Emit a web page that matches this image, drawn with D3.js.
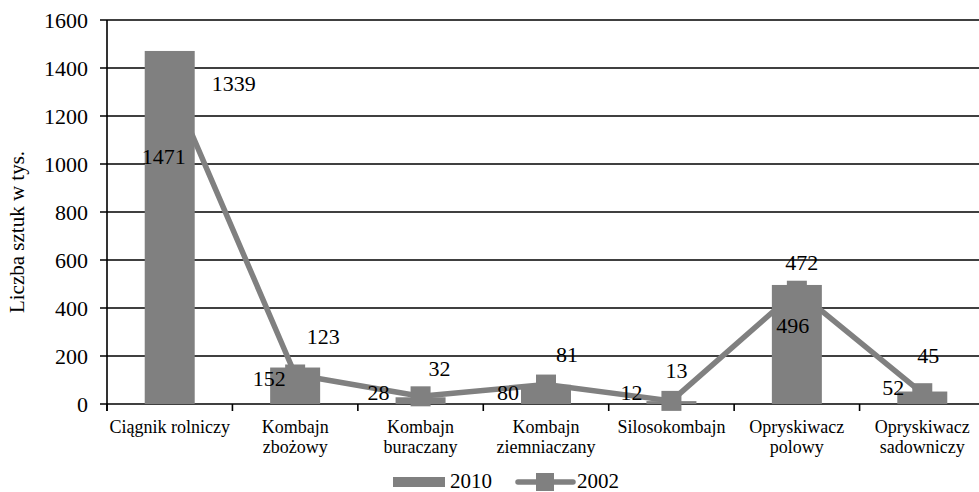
<!DOCTYPE html>
<html>
<head>
<meta charset="utf-8">
<script src="https://cdn.jsdelivr.net/npm/d3@7/dist/d3.min.js"></script>
<style>
  body { margin: 0; background: #fff; }
</style>
</head>
<body>
<div class="chart"></div>
<script>
// Data
const categories = [
  ["Ciągnik rolniczy"],
  ["Kombajn", "zbożowy"],
  ["Kombajn", "buraczany"],
  ["Kombajn", "ziemniaczany"],
  ["Silosokombajn"],
  ["Opryskiwacz", "polowy"],
  ["Opryskiwacz", "sadowniczy"]
]
const values2010 = [1471, 152, 28, 80, 12, 496, 52]
const values2002 = [1339, 123, 32, 81, 13, 472, 45]
const yTicks = [0, 200, 400, 600, 800, 1000, 1200, 1400, 1600]

// Label nudges (layout only), relative to bar top / line point
const nudge2010 = [[-6, 105], [-26, 11], [-42, -5], [-38, 7], [-40, -9], [-4, 40], [-29, -4]]
const nudge2002 = [[64, 1], [28, -38], [19, -28], [21, -30], [5, -31], [5, -28], [6, -38]]

const width = 979
const height = 492
const margin = {top: 20, right: -6, bottom: 88, left: 107}
const grey = "#808080"
const font = "'Liberation Serif', 'Times New Roman', Times, serif"

const svg = d3.select(".chart").append("svg")
    .attr("width", width)
    .attr("height", height)
    .attr("font-family", font)
    .style("display", "block")

const x = d3.scaleBand()
    .domain(d3.range(categories.length))
    .range([margin.left, width - margin.right])

const y = d3.scaleLinear()
    .domain([0, 1600])
    .range([height - margin.bottom, margin.top])

// Gridlines and y ticks
svg.append("g")
    .selectAll("line")
    .data(yTicks)
    .join("line")
      .attr("x1", margin.left - 7)
      .attr("x2", width)
      .attr("y1", d => y(d))
      .attr("y2", d => y(d))
      .attr("stroke", "#000")
      .attr("stroke-width", 1.6)

svg.append("g")
    .selectAll("text")
    .data(yTicks)
    .join("text")
      .attr("x", margin.left - 19)
      .attr("y", d => y(d))
      .attr("dy", "0.35em")
      .attr("text-anchor", "end")
      .attr("font-size", 22)
      .text(d => d)

// Y title
svg.append("text")
    .attr("transform", `translate(24,${(margin.top + y(0)) / 2 + 20}) rotate(-90)`)
    .attr("text-anchor", "middle")
    .attr("font-size", 21)
    .text("Liczba sztuk w tys.")

// 2002 line drawn behind bars
const cx = i => x(i) + x.bandwidth() / 2
const line = d3.line()
    .x((d, i) => cx(i))
    .y(d => y(d))

svg.append("path")
    .datum(values2002)
    .attr("d", line)
    .attr("fill", "none")
    .attr("stroke", grey)
    .attr("stroke-width", 5.5)
    .attr("stroke-linejoin", "round")

svg.append("g")
    .selectAll("rect")
    .data(values2002)
    .join("rect")
      .attr("x", (d, i) => cx(i) - 10)
      .attr("y", d => y(d) - 10)
      .attr("width", 20)
      .attr("height", 20)
      .attr("fill", grey)

// 2010 bars
const barW = 50
svg.append("g")
    .selectAll("rect")
    .data(values2010)
    .join("rect")
      .attr("x", (d, i) => cx(i) - barW / 2)
      .attr("y", d => y(d))
      .attr("width", barW)
      .attr("height", d => y(0) - y(d))
      .attr("fill", grey)

// Axes lines
svg.append("line")
    .attr("x1", margin.left).attr("x2", margin.left)
    .attr("y1", margin.top).attr("y2", y(0) + 7)
    .attr("stroke", "#000").attr("stroke-width", 1.6)

svg.append("g")
    .selectAll("line")
    .data(d3.range(categories.length))
    .join("line")
      .attr("x1", i => x(i)).attr("x2", i => x(i))
      .attr("y1", y(0)).attr("y2", y(0) + 7)
      .attr("stroke", "#000").attr("stroke-width", 1.6)

// Category labels
const catLabels = svg.append("g")
    .selectAll("text")
    .data(categories)
    .join("text")
      .attr("text-anchor", "middle")
      .attr("font-size", 18)
      .attr("transform", (d, i) => `translate(${cx(i)},${y(0) + 29})`)

catLabels.selectAll("tspan")
    .data(d => d)
    .join("tspan")
      .attr("x", 0)
      .attr("y", (d, i) => i * 20)
      .text(d => d)

// Data labels
svg.append("g")
    .selectAll("text")
    .data(values2010)
    .join("text")
      .attr("x", (d, i) => cx(i) + nudge2010[i][0])
      .attr("y", (d, i) => y(d) + nudge2010[i][1])
      .attr("dy", "0.35em")
      .attr("text-anchor", "middle")
      .attr("font-size", 22)
      .text(d => d)

svg.append("g")
    .selectAll("text")
    .data(values2002)
    .join("text")
      .attr("x", (d, i) => cx(i) + nudge2002[i][0])
      .attr("y", (d, i) => y(d) + nudge2002[i][1])
      .attr("dy", "0.35em")
      .attr("text-anchor", "middle")
      .attr("font-size", 22)
      .text(d => d)

// Legend
const legend = svg.append("g").attr("transform", "translate(0,482)")
legend.append("rect")
    .attr("x", 393).attr("y", -5)
    .attr("width", 52).attr("height", 10)
    .attr("fill", grey)
legend.append("text")
    .attr("x", 450).attr("y", 0).attr("dy", "0.3em")
    .attr("font-size", 21)
    .text("2010")
legend.append("line")
    .attr("x1", 518).attr("x2", 573)
    .attr("stroke", grey).attr("stroke-width", 5.5)
    .attr("stroke-linecap", "round")
legend.append("rect")
    .attr("x", 536).attr("y", -9)
    .attr("width", 18).attr("height", 18)
    .attr("fill", grey)
legend.append("text")
    .attr("x", 577).attr("y", 0).attr("dy", "0.3em")
    .attr("font-size", 21)
    .text("2002")
</script>
</body>
</html>
